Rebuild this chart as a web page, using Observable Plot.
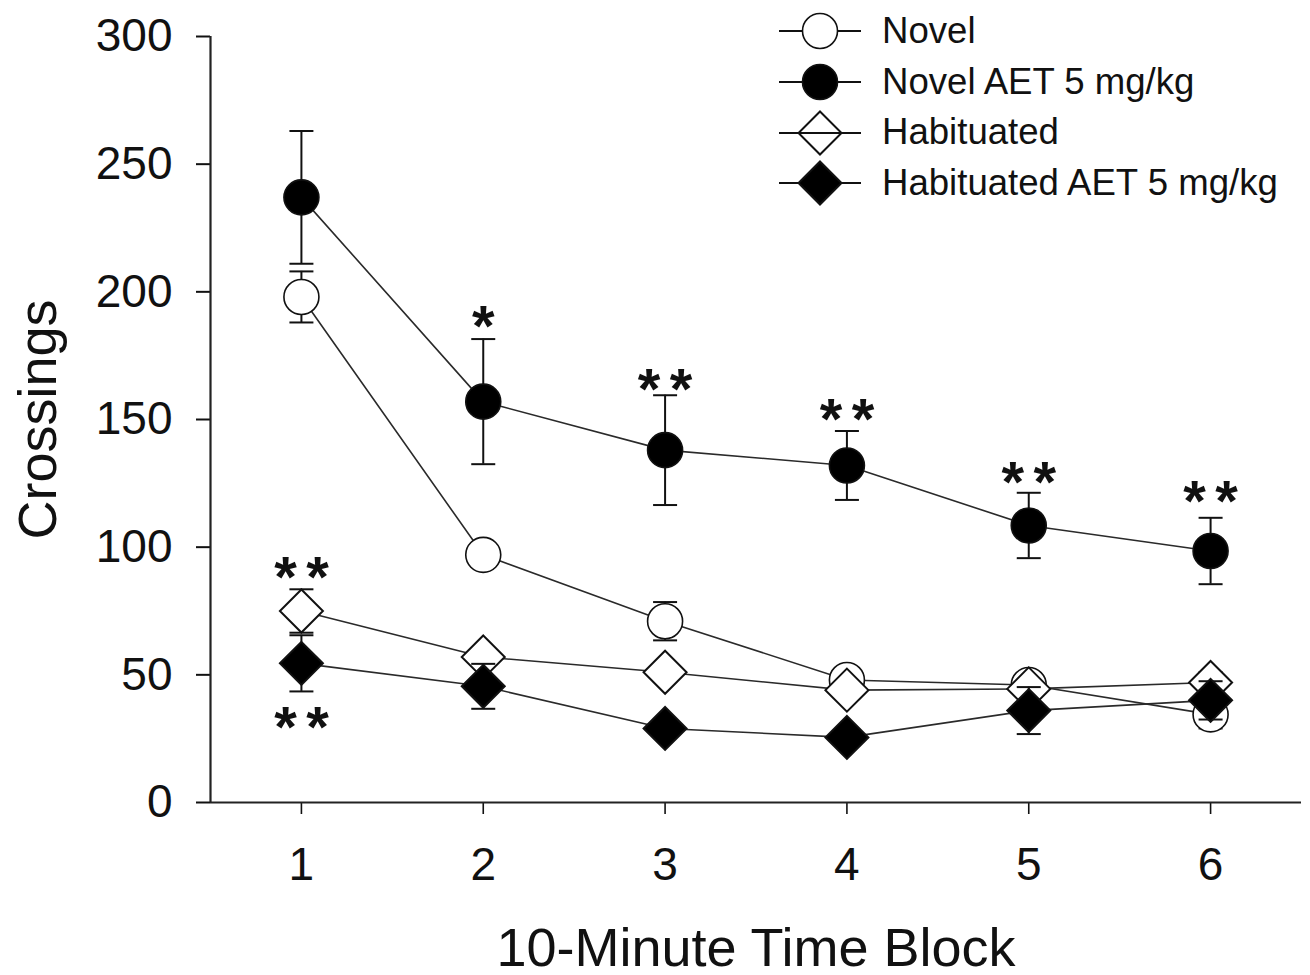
<!DOCTYPE html>
<html>
<head>
<meta charset="utf-8">
<script src="https://cdn.jsdelivr.net/npm/d3@7"></script>
<script src="https://cdn.jsdelivr.net/npm/@observablehq/plot@0.6"></script>
<style>
  html, body { margin: 0; padding: 0; background: #fff; }
  #wrap { position: relative; width: 1310px; height: 975px; font-family: "Liberation Sans", Arial, sans-serif; }
  #legend { position: absolute; left: 779px; top: 6px; }
  .lrow { display: flex; align-items: center; height: 50.7px; }
  .lrow svg { display: block; }
  .lrow span { font-size: 36.6px; color: #111; margin-left: 21px; line-height: 1; }
</style>
</head>
<body>
<div id="wrap"><div id="legend"></div></div>
<script>
// ---- data ----
const blocks = [1, 2, 3, 4, 5, 6];
const seriesNames = ["Novel", "Novel AET 5 mg/kg", "Habituated", "Habituated AET 5 mg/kg"];
const novel = [198, 97, 71, 48, 46, 34.5];
const novelErr = [10, 3, 7.5, 3, 4, 5.5];
const novelAet = [237, 157, 138, 132, 108.5, 98.5];
const novelAetErr = [26, 24.5, 21.5, 13.5, 12.8, 13];
const habituated = [75, 57, 51, 44, 44.5, 47];
const habituatedErr = [8.5, 3, 3.5, 3, 3, 4];
const habituatedAet = [54.5, 45.5, 29, 25.5, 36, 40];
const habituatedAetErr = [11, 8.8, 3, 3, 9.2, 7.5];
const yTicks = [0, 50, 100, 150, 200, 250, 300];
const starBlock = [2, 3, 4, 5, 6, 1, 1];
const starValue = [191.4, 166.5, 154.7, 130, 122.8, 92.8, 34.1];
const starCount = [1, 2, 2, 2, 2, 2, 2];
const xLabel = "10-Minute Time Block";
const yLabel = "Crossings";

// ---- symbols ----
const capSymbol = {draw(ctx) { ctx.moveTo(-12, 0); ctx.lineTo(12, 0); }};
const diamondSymbol = {draw(ctx) { const h = 21.5; ctx.moveTo(0, -h); ctx.lineTo(h, 0); ctx.lineTo(0, h); ctx.lineTo(-h, 0); ctx.closePath(); }};

const seriesDefs = [
  {name: seriesNames[0], values: novel, errs: novelErr, symbol: "circle", fill: "white", sw: 1.6},
  {name: seriesNames[1], values: novelAet, errs: novelAetErr, symbol: "circle", fill: "black", sw: 1.6},
  {name: seriesNames[2], values: habituated, errs: habituatedErr, symbol: diamondSymbol, fill: "white", sw: 2},
  {name: seriesNames[3], values: habituatedAet, errs: habituatedAetErr, symbol: diamondSymbol, fill: "black", sw: 2}
];

const marks = [];
for (const s of seriesDefs) {
  const rows = blocks.map((b, i) => ({x: b, y: s.values[i], lo: s.values[i] - s.errs[i], hi: s.values[i] + s.errs[i]}));
  marks.push(Plot.line(rows, {x: "x", y: "y", stroke: "#2a2a2a", strokeWidth: 1.6}));
  marks.push(Plot.ruleX(rows, {x: "x", y1: "lo", y2: "hi", stroke: "#111", strokeWidth: 2}));
  marks.push(Plot.dot(rows, {x: "x", y: "lo", symbol: capSymbol, fill: "none", stroke: "#111", strokeWidth: 2}));
  marks.push(Plot.dot(rows, {x: "x", y: "hi", symbol: capSymbol, fill: "none", stroke: "#111", strokeWidth: 2}));
  marks.push(Plot.dot(rows, {x: "x", y: "y", symbol: s.symbol, r: 17.5, fill: s.fill, stroke: "#111", strokeWidth: s.sw}));
}

const stars = starBlock.map((b, i) => ({x: b, y: starValue[i], n: starCount[i]}));
const singles = stars.filter(d => d.n === 1);
const doubles = stars.filter(d => d.n === 2);
const starFs = 58;
const starOpts = {x: "x", y: "y", text: () => "*", fontSize: starFs, fontWeight: "bold", lineAnchor: "bottom", fill: "#111"};

const chart = Plot.plot({
  width: 1310,
  height: 975,
  marginLeft: 210,
  marginRight: 9,
  marginTop: 36,
  marginBottom: 173,
  style: {fontFamily: "'Liberation Sans', Arial, sans-serif", background: "white", color: "#111"},
  x: {domain: [0.5, 6.5]},
  y: {domain: [0, 300]},
  marks: [
    Plot.axisY({ticks: yTicks, tickSize: 14, tickPadding: 24, fontSize: 46, strokeWidth: 2, label: null, tickFormat: d => String(d)}),
    Plot.axisX({ticks: blocks, tickSize: 12, tickPadding: 33, fontSize: 46, strokeWidth: 1.6, label: null, tickFormat: d => String(d)}),
    Plot.ruleX([0.5], {stroke: "#222", strokeWidth: 2.2}),
    Plot.ruleY([0], {stroke: "#222", strokeWidth: 2.2}),
    ...marks,
    Plot.text(singles, {...starOpts, dy: 0.55 * starFs}),
    Plot.text(doubles, {...starOpts, dy: 0.55 * starFs, dx: -16}),
    Plot.text(doubles, {...starOpts, dy: 0.55 * starFs, dx: 16}),
    Plot.text([xLabel], {frameAnchor: "bottom", lineAnchor: "bottom", dy: 163, fontSize: 54, fill: "#111"}),
    Plot.text([yLabel], {frameAnchor: "left", textAnchor: "middle", rotate: -90, lineAnchor: "bottom", dx: -155, fontSize: 54, fill: "#111"})
  ]
});
document.getElementById("wrap").prepend(chart);

// ---- legend ----
const legend = document.getElementById("legend");
seriesDefs.forEach((s, i) => {
  const row = document.createElement("div");
  row.className = "lrow";
  const isCircle = s.symbol === "circle";
  const legendFill = (!isCircle && s.fill === "white") ? "none" : s.fill;
  const sym = isCircle
    ? `<circle cx="41" cy="25" r="17.5" fill="${s.fill}" stroke="#111" stroke-width="1.6"/>`
    : `<path d="M41,3.5L62.5,25L41,46.5L19.5,25Z" fill="${legendFill}" stroke="#111" stroke-width="2"/>`;
  row.innerHTML = `<svg width="82" height="50"><line x1="0" x2="82" y1="25" y2="25" stroke="#111" stroke-width="1.8"/>${sym}</svg><span>${s.name}</span>`;
  legend.appendChild(row);
});
</script>
</body>
</html>
